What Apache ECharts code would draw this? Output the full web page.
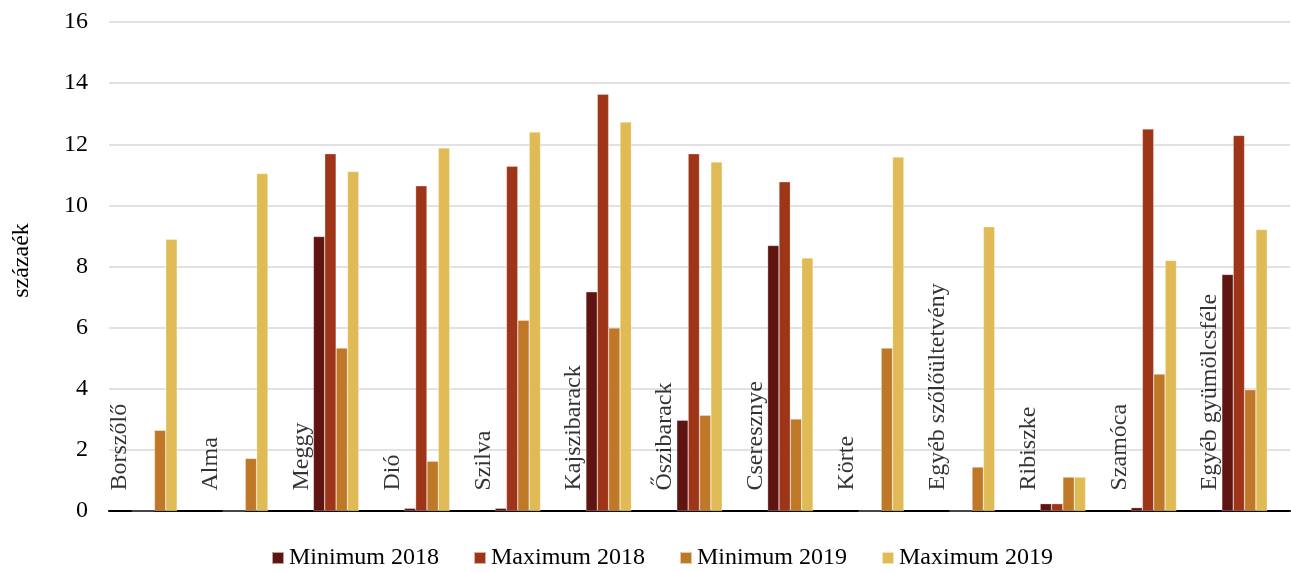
<!DOCTYPE html>
<html>
<head>
<meta charset="utf-8">
<script src="https://cdn.jsdelivr.net/npm/echarts@6/dist/echarts.min.js"></script>
<style>
html,body{margin:0;padding:0;background:#fff;}
#chart{width:1291px;height:572px;}
</style>
</head>
<body>
<div id="chart"></div>
<script>
const categories = ['Borszőlő','Alma','Meggy','Dió','Szilva','Kajszibarack','Őszibarack','Cseresznye','Körte','Egyéb szőlőültetvény','Ribiszke','Szamóca','Egyéb gyümölcsféle'];
const seriesNames = ['Minimum 2018','Maximum 2018','Minimum 2019','Maximum 2019'];
const min2018 = [0, 0, 8.98, 0.09, 0.09, 7.17, 2.97, 8.69, 0, 0, 0.24, 0.11, 7.74];
const max2018 = [0, 0, 11.69, 10.64, 11.28, 13.64, 11.69, 10.77, 0, 0, 0.24, 12.5, 12.29];
const min2019 = [2.64, 1.72, 5.33, 1.63, 6.24, 5.99, 3.13, 3.01, 5.33, 1.44, 1.11, 4.48, 3.97];
const max2019 = [8.89, 11.04, 11.11, 11.88, 12.4, 12.73, 11.42, 8.28, 11.58, 9.30, 1.11, 8.2, 9.21];
const yTicks = [0, 2, 4, 6, 8, 10, 12, 14, 16];
const yName = 'százaék';

const colors = ['#5E1410', '#9E3518', '#BF7828', '#E0BB55'];
const FONT = 'Liberation Serif';

const chart = echarts.init(document.getElementById('chart'), null, {renderer: 'canvas'});
const barData = [min2018, max2018, min2019, max2019];
const series = barData.map((d, i) => ({
  name: seriesNames[i],
  type: 'bar',
  data: d,
  barGap: '0%',
  barCategoryGap: '50%',
  itemStyle: {color: colors[i], borderColor: 'rgba(255,255,255,0.6)', borderWidth: 0.5},
  silent: true
}));
series.push({
  type: 'scatter',
  data: categories.map(() => 0),
  symbol: 'rect',
  symbolSize: 1,
  itemStyle: {color: 'rgba(0,0,0,0)'},
  silent: true,
  z: 10,
  label: {
    show: true,
    formatter: p => categories[p.dataIndex],
    position: [-34, -20],
    rotate: 90,
    align: 'left',
    verticalAlign: 'middle',
    fontFamily: FONT,
    fontSize: 24,
    color: '#000'
  }
});

chart.setOption({
  animation: false,
  color: colors,
  grid: {left: 109, right: 1, top: 22, bottom: 61, containLabel: false},
  legend: {
    data: seriesNames,
    left: 271,
    top: 546,
    padding: 0,
    itemWidth: 12,
    itemHeight: 12,
    itemGap: 34,
    icon: 'rect',
    textStyle: {fontFamily: FONT, fontSize: 24, color: '#000'}
  },
  xAxis: {
    type: 'category',
    data: categories,
    axisLine: {show: true, lineStyle: {color: '#000', width: 2}},
    axisTick: {show: false},
    axisLabel: {show: false},
    splitLine: {show: false}
  },
  yAxis: {
    type: 'value',
    min: yTicks[0],
    max: yTicks[yTicks.length - 1],
    interval: 2,
    name: yName,
    nameLocation: 'middle',
    nameGap: 75,
    nameTextStyle: {fontFamily: FONT, fontSize: 24, color: '#000', padding: [0, 0, 0, 12]},
    axisLine: {show: false},
    axisTick: {show: false},
    axisLabel: {margin: 21, fontFamily: FONT, fontSize: 24, color: '#000'},
    splitLine: {lineStyle: {color: '#d9d9d9', width: 1.5}}
  },
  series: series
});
</script>
</body>
</html>
